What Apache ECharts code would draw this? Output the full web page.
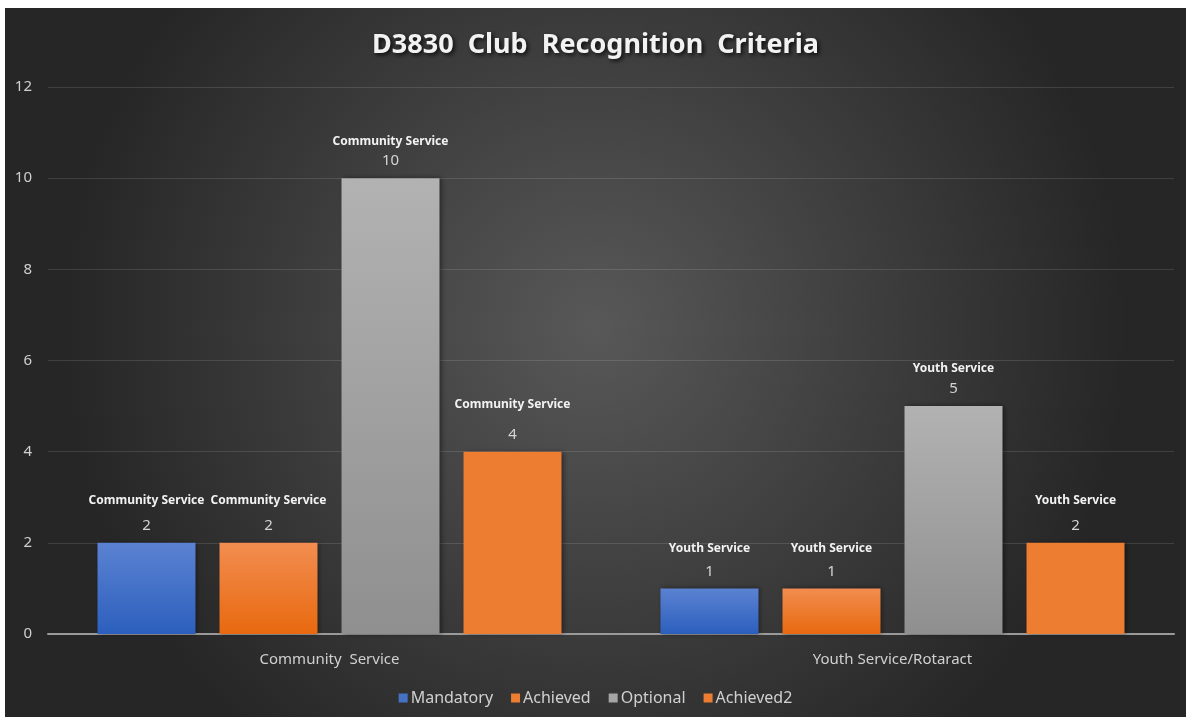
<!DOCTYPE html>
<html>
<head>
<meta charset="utf-8">
<script src="https://cdn.jsdelivr.net/npm/echarts@6/dist/echarts.min.js"></script>
<style>
html,body{margin:0;padding:0;background:#fff;}
#c{position:absolute;left:5px;top:8px;width:1181px;height:709px;}
</style>
</head>
<body>
<div id="c"></div>
<script>
const titleText = 'D3830  Club  Recognition  Criteria';
const categories = ['Community  Service', 'Youth Service/Rotaract'];
const pointLabels = ['Community Service', 'Youth Service'];
const seriesNames = ['Mandatory', 'Achieved', 'Optional', 'Achieved2'];
const mandatory = [2, 1];
const achieved = [2, 1];
const optional = [10, 5];
const achieved2 = [4, 2];
const yTicks = [0, 2, 4, 6, 8, 10, 12];

const lg = (a, b) => ({type:'linear', x:0, y:0, x2:0, y2:1, colorStops:[{offset:0,color:a},{offset:1,color:b}]});
const colors = [
  lg('#5b82d2', '#2c5fbd'),
  lg('#f28d50', '#e8690f'),
  lg('#b2b2b2', '#8f8f8f'),
  '#ed7d31'
];
const legendColors = ['#4472c4', '#ed7d31', '#a5a5a5', '#ed7d31'];
const values = [mandatory, achieved, optional, achieved2];
// label name-line heights per [series][category] (label placement style)
const nameLineHeights = [[24, 20], [24, 20], [14, 16], [34, 24]];

const chart = echarts.init(document.getElementById('c'));
const series = seriesNames.map((name, si) => ({
  name,
  type: 'bar',
  barWidth: 98,
  barGap: '24.5%',
  data: values[si].map((v, ci) => ({
    value: v,
    label: {rich: {n: {lineHeight: nameLineHeights[si][ci]}}}
  })),
  itemStyle: {
    color: colors[si],
    shadowBlur: 5,
    shadowColor: 'rgba(0,0,0,0.45)',
    shadowOffsetX: 2,
    shadowOffsetY: 0
  },
  label: {
    show: true,
    position: 'top',
    distance: 4,
    formatter: p => '{n|' + pointLabels[p.dataIndex] + '}\n{v|' + p.value + '}',
    rich: {
      n: {fontFamily: 'Noto Sans', fontSize: 12, fontWeight: 'bold', color: '#f2f2f2', lineHeight: 24, align: 'center'},
      v: {fontFamily: 'Noto Sans', fontSize: 15, color: '#d4d4d4', lineHeight: 26, align: 'center'}
    }
  }
}));

chart.setOption({
  backgroundColor: {
    type: 'radial', x: 0.5, y: 0.45, r: 0.75,
    colorStops: [{offset: 0, color: '#585858'}, {offset: 1, color: '#262626'}]
  },
  color: legendColors,
  title: {
    text: titleText,
    left: 'center',
    top: 19,
    textStyle: {
      fontFamily: 'Noto Sans', fontSize: 27, fontWeight: 'bold', color: '#f2f2f2',
      textShadowColor: 'rgba(0,0,0,0.8)', textShadowBlur: 4, textShadowOffsetX: 2, textShadowOffsetY: 2
    }
  },
  legend: {
    bottom: 6,
    left: 'center',
    itemWidth: 9,
    itemHeight: 9,
    itemGap: 18,
    icon: 'rect',
    textStyle: {fontFamily: 'Noto Sans', fontSize: 16, color: '#d0d0d0', padding: [0, 0, 0, -2]},
    data: seriesNames.map((n, i) => ({name: n, itemStyle: {color: legendColors[i]}}))
  },
  grid: {left: 43, right: 12, top: 79, bottom: 83},
  xAxis: {
    type: 'category',
    data: categories,
    axisLine: {lineStyle: {color: '#9a9a9a', width: 2}},
    axisTick: {show: false},
    axisLabel: {fontFamily: 'Noto Sans', fontSize: 15, color: '#d0d0d0', margin: 18}
  },
  yAxis: {
    type: 'value',
    min: yTicks[0],
    max: yTicks[yTicks.length - 1],
    interval: 2,
    axisLine: {show: false},
    axisTick: {show: false},
    axisLabel: {fontFamily: 'Noto Sans', fontSize: 15, color: '#d0d0d0', margin: 16},
    splitLine: {lineStyle: {color: 'rgba(255,255,255,0.12)', width: 1}}
  },
  series
});
</script>
</body>
</html>
